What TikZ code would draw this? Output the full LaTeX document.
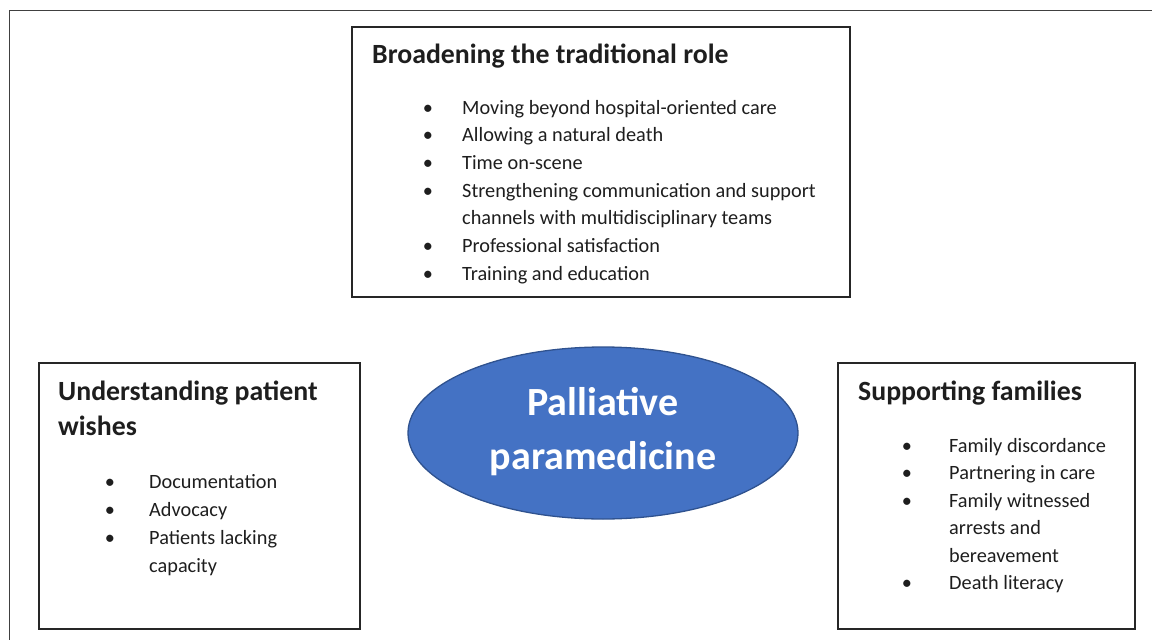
\documentclass[tikz,border=0pt]{standalone}
\usepackage{fontspec}
\setmainfont{Carlito}
\usetikzlibrary{shapes.geometric}
\definecolor{ovalfill}{HTML}{4472C4}
\definecolor{ovaledge}{HTML}{2F528F}
\definecolor{txt}{HTML}{1E1E1E}
\tikzset{
  frameline/.style={line width=1.6pt, draw=black!75},
  boxframe/.style={draw=black!85, line width=1.1pt},
  title/.style={anchor=base west, inner sep=0pt, font=\fontsize{27.8}{32}\selectfont\bfseries, text=txt},
  item/.style={anchor=base west, inner sep=0pt, font=\fontsize{20.3}{24}\selectfont, text=txt},
  bul/.style={anchor=base, inner sep=0pt, font=\fontsize{20.3}{24}\selectfont, text=txt},
  oval/.style={ellipse, fill=ovalfill, draw=ovaledge, line width=1.3pt, minimum width=390pt, minimum height=172pt, inner sep=0pt},
  ovaltext/.style={anchor=base, inner sep=0pt, font=\fontsize{40}{44}\selectfont\bfseries, text=white}
}
\begin{document}
\begin{tikzpicture}[x=1pt,y=-1pt]
\useasboundingbox (0,0) rectangle (1152,640);
% outer frame (partly cropped)
\coordinate (fbl) at (9.5,640);
\coordinate (ftl) at (9.5,10.5);
\coordinate (ftr) at (1152,10.5);
\draw[frameline] (fbl) -- (ftl) -- (ftr);

% top box
\draw[boxframe] (352,27) rectangle (850,297);
\node[title] (t1) at (372,63) {Broadening the traditional role};
\foreach \y/\t [count=\i] in {114/Moving beyond hospital-oriented care,141.5/Allowing a natural death,169/Time on-scene,197/Strengthening communication and support,252/Professional satisfaction,280/Training and education}{
  \node[bul] (tb\i) at (428,\y) {•};
  \node[item] (ti\i) at (462,\y) {\t};
}
\node[item] (tc) at (462,224.5) {channels with multidisciplinary teams};

% left box
\draw[boxframe] (39,363) rectangle (360,629);
\node[title] (l1) at (58,400) {Understanding patient};
\node[title] (l2) at (58,435) {wishes};
\foreach \y/\t [count=\i] in {488/Documentation,516/Advocacy,544/Patients lacking}{
  \node[bul] (lb\i) at (110,\y) {•};
  \node[item] (li\i) at (149,\y) {\t};
}
\node[item] (lc) at (149,572) {capacity};

% right box
\draw[boxframe] (838,363) rectangle (1135,629);
\node[title] (r1) at (858,400) {Supporting families};
\foreach \y/\t [count=\i] in {452/Family discordance,479.5/Partnering in care,507/Family witnessed,589.5/Death literacy}{
  \node[bul] (rb\i) at (907,\y) {•};
  \node[item] (ri\i) at (949,\y) {\t};
}
\node[item] (rc1) at (949,534.5) {arrests and};
\node[item] (rc2) at (949,562) {bereavement};

% central oval
\node[oval] (ov) at (603,433) {};
\node[ovaltext] (o1) at (603,415) {Palliative};
\node[ovaltext] (o2) at (603,469) {paramedicine};
\end{tikzpicture}
\end{document}
